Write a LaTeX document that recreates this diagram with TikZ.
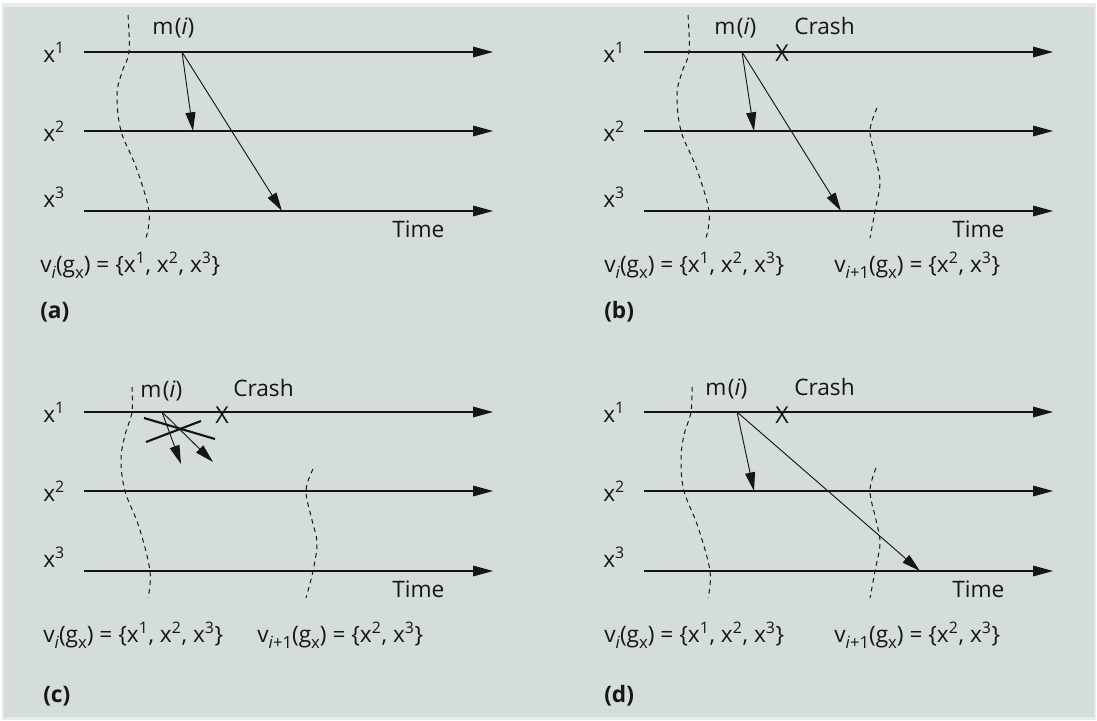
\documentclass[tikz,border=0pt]{standalone}
\usepackage{fontspec}
\setmainfont{Open Sans}
\usetikzlibrary{arrows.meta}
\definecolor{bg}{RGB}{212,221,216}
\definecolor{ink}{RGB}{22,22,22}
\newcommand{\lowsub}[1]{\raisebox{-0.55ex}{\fontsize{12.5}{12.5}\selectfont #1}}
\newcommand{\vilab}{v\lowsub{\textit{i}}(g\lowsub{x}) = \{x\textsuperscript{1}, x\textsuperscript{2}, x\textsuperscript{3}\}}
\newcommand{\vnlab}{v\lowsub{\textit{i}+1}(g\lowsub{x}) = \{x\textsuperscript{2}, x\textsuperscript{3}\}}
\newcommand{\mlab}{m\kern1.2pt(\textit{i})}
\begin{document}
\begin{tikzpicture}[x=0.75pt,y=-0.75pt,
  axis/.style={draw=ink,line width=0.8pt,-{Triangle[length=15pt,width=8pt]}},
  msg/.style={draw=ink,line width=0.7pt,-{Triangle[length=14pt,width=7.5pt]}},
  cut/.style={draw=ink,line width=0.75pt,dash pattern=on 3.5pt off 3pt},
  lbl/.style={inner sep=0pt,anchor=base west,text=ink,font=\fontsize{17}{20}\selectfont},
  tag/.style={lbl,font=\fontsize{17}{20}\selectfont\bfseries},
  crossmark/.style={inner sep=0pt,text=ink,font=\fontsize{17.5}{20}\selectfont},
  cross/.style={draw=ink,line width=1.6pt}]
\useasboundingbox (0,0) rectangle (1097,721);
\fill[white] (0,0) rectangle (1097,721);
\fill[bg!55!white] (2,3) rectangle (1096,720);
\fill[bg] (4,7) rectangle (1094,717);

% common parts of the four panels
\foreach \p/\dx/\dy in {a/0/0,b/560/0,c/0/360,d/560/360}{
  \begin{scope}[shift={(\dx,\dy)}]
    \coordinate (\p s1) at (84,52);  \coordinate (\p e1) at (493,52);
    \coordinate (\p s2) at (84,131); \coordinate (\p e2) at (493,131);
    \coordinate (\p s3) at (84,211); \coordinate (\p e3) at (493,211);
    \draw[axis] (\p s1) -- (\p e1);
    \draw[axis] (\p s2) -- (\p e2);
    \draw[axis] (\p s3) -- (\p e3);
    \node[lbl] (\p x1) at (43,62) {x\textsuperscript{1}};
    \node[lbl] (\p x2) at (43,141) {x\textsuperscript{2}};
    \node[lbl] (\p x3) at (43,207) {x\textsuperscript{3}};
    \node[lbl] (\p time) at (392,237) {Time};
  \end{scope}
}

% ---------- (a)
\node[lbl] (am) at (152,35) {\mlab};
\coordinate (asend) at (182,52);
\coordinate (ar2) at (193,131);
\coordinate (ar3) at (282,211);
\draw[msg] (asend) -- (ar2);
\draw[msg] (asend) -- (ar3);
\draw[cut] plot[smooth,tension=0.6] coordinates {(128,15) (129,52) (122,72) (117,95) (121,131) (136,167) (149,211) (146,238)};
\node[lbl] (av) at (40,272) {\vilab};
\node[tag] (atag) at (40,318) {(a)};

% ---------- (b)
\node[lbl] (bm) at (714,35) {\mlab};
\node[lbl] (bcrash) at (794,35) {Crash};
\node[crossmark] (bx) at (782,53) {X};
\coordinate (bsend) at (742,52);
\coordinate (br2) at (754,131);
\coordinate (br3) at (841,211);
\draw[msg] (bsend) -- (br2);
\draw[msg] (bsend) -- (br3);
\draw[cut] plot[smooth,tension=0.6] coordinates {(688,15) (689,52) (682,72) (677,95) (681,131) (696,167) (709,211) (706,238)};
\draw[cut] plot[smooth,tension=0.6] coordinates {(877,108) (870,131) (876,160) (880,183) (875,211) (870,238)};
\node[lbl] (bv) at (604,272) {\vilab};
\node[lbl] (bvn) at (834,272) {\vnlab};
\node[tag] (btag) at (604,318) {(b)};

% ---------- (c)
\node[lbl] (cm) at (140,397) {\mlab};
\node[lbl] (ccrash) at (233,396) {Crash};
\node[crossmark] (cx) at (222,415) {X};
\coordinate (csend) at (162,412);
\coordinate (cr2) at (181,464);
\coordinate (cr3) at (213,462);
\draw[msg] (csend) -- (cr2);
\draw[msg] (csend) -- (cr3);
\coordinate (cxa1) at (144,418); \coordinate (cxa2) at (215,439);
\coordinate (cxb1) at (146,442); \coordinate (cxb2) at (201,421);
\draw[cross] (cxa1) -- (cxa2);
\draw[cross] (cxb1) -- (cxb2);
\draw[cut] plot[smooth,tension=0.6] coordinates {(132,387) (132,412) (125,435) (121,460) (125,491) (139,527) (150,571) (148,598)};
\draw[cut] plot[smooth,tension=0.6] coordinates {(313,469) (306,491) (312,520) (317,543) (313,571) (306,598)};
\node[lbl] (cv) at (43,642) {\vilab};
\node[lbl] (cvn) at (257,642) {\vnlab};
\node[tag] (ctag) at (43,702) {(c)};

% ---------- (d)
\node[lbl] (dm) at (705,395) {\mlab};
\node[lbl] (dcrash) at (794,395) {Crash};
\node[crossmark] (dx) at (782,415) {X};
\coordinate (dsend) at (737,412);
\coordinate (dr2) at (754,491);
\coordinate (dr3) at (920,571);
\draw[msg] (dsend) -- (dr2);
\draw[msg] (dsend) -- (dr3);
\draw[cut] plot[smooth,tension=0.6] coordinates {(692,387) (691,412) (684,435) (681,460) (684,491) (698,527) (710,571) (708,598)};
\draw[cut] plot[smooth,tension=0.6] coordinates {(876,468) (870,491) (876,520) (880,543) (875,571) (870,598)};
\node[lbl] (dv) at (604,642) {\vilab};
\node[lbl] (dvn) at (834,642) {\vnlab};
\node[tag] (dtag) at (604,702) {(d)};
\end{tikzpicture}
\end{document}
